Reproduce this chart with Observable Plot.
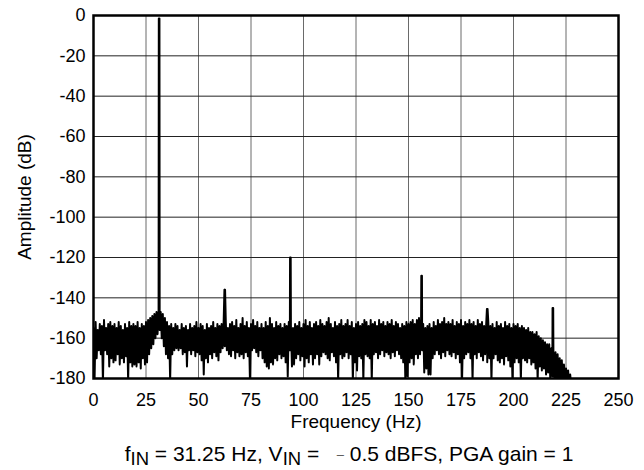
<!DOCTYPE html>
<html>
<head>
<meta charset="utf-8">
<script src="https://cdn.jsdelivr.net/npm/d3@7"></script>
<script src="https://cdn.jsdelivr.net/npm/@observablehq/plot@0.6"></script>
<style>
  html, body { margin: 0; padding: 0; background: #fff; }
  body { width: 644px; font-family: "Liberation Sans", Arial, sans-serif; }
  #chart svg { display: block; }
  #caption { width: 644px; box-sizing: border-box; padding-left: 54px; text-align: center;
             font-size: 21px; line-height: 24px; margin-top: 2px; color: #000; white-space: nowrap; }
  #caption sub { font-size: 0.88em; vertical-align: -4px; line-height: 0; }
  #caption .dash { font-size: 13px; color: #555; position: relative; top: -2px; }
</style>
</head>
<body>
<div id="chart"></div>
<div id="caption">f<sub>IN</sub> = 31.25 Hz, V<sub>IN</sub> = &nbsp;&nbsp;<span class="dash">&#8211;</span> 0.5 dBFS, PGA gain = 1</div>
<script>
// FFT bin spacing (Hz) of the noise-floor samples
const binStep = 0.5;
// Noise floor amplitude (dB), one value every 0.5 Hz from 0 Hz
const noiseAmp = [
  -155,-181,-152,-170,-156,-166,-153,-168,-154,-182,-151,-166,-155,-168,-153,-174,-152,-170,-154,-172,
  -153,-171,-155,-168,-152,-173,-154,-170,-156,-172,-153,-169,-155,-181,-152,-172,-154,-174,-153,-173,
  -154,-174,-152,-172,-155,-175,-153,-170,-154,-173,-152,-172,-151,-168,-150,-165,-149,-163,-148,-160,
  -147,-158,-146,-156,-147,-160,-148,-164,-150,-168,-152,-170,-154,-181,-153,-168,-155,-166,-153,-165,
  -154,-166,-156,-165,-153,-168,-155,-167,-154,-174,-156,-166,-153,-168,-155,-166,-154,-169,-152,-167,
  -155,-168,-153,-171,-154,-178,-156,-170,-153,-172,-155,-168,-154,-170,-152,-167,-155,-169,-153,-171,
  -154,-167,-153,-165,-151,-164,-152,-166,-155,-168,-153,-169,-152,-166,-154,-170,-151,-167,-155,-169,
  -153,-168,-150,-170,-154,-167,-152,-169,-155,-181,-153,-166,-151,-165,-154,-167,-152,-169,-155,-166,
  -153,-170,-155,-172,-152,-174,-154,-175,-150,-172,-153,-173,-155,-170,-152,-171,-154,-168,-153,-170,
  -155,-169,-153,-172,-154,-179,-152,-166,-154,-174,-155,-173,-153,-170,-154,-168,-152,-171,-155,-169,
  -153,-174,-151,-170,-154,-172,-152,-168,-155,-173,-153,-170,-152,-168,-154,-173,-151,-169,-153,-167,
  -154,-168,-152,-170,-150,-171,-153,-167,-155,-169,-152,-172,-154,-181,-153,-168,-151,-170,-154,-169,
  -153,-167,-151,-170,-154,-168,-152,-181,-155,-172,-153,-176,-152,-169,-154,-170,-153,-181,-151,-168,
  -152,-169,-154,-170,-151,-181,-153,-168,-152,-167,-154,-170,-151,-168,-153,-166,-152,-169,-154,-167,
  -152,-168,-153,-170,-151,-167,-154,-169,-152,-166,-153,-168,-155,-170,-153,-172,-154,-181,-152,-179,
  -153,-172,-152,-170,-151,-173,-153,-168,-151,-170,-150,-168,-151,-166,-153,-177,-155,-175,-154,-178,
  -153,-178,-155,-170,-152,-168,-154,-166,-151,-168,-153,-170,-152,-167,-150,-169,-153,-166,-152,-168,
  -153,-169,-151,-167,-154,-170,-152,-168,-153,-172,-151,-181,-154,-170,-152,-168,-153,-167,-151,-170,
  -153,-181,-152,-168,-154,-170,-151,-167,-153,-169,-152,-171,-154,-168,-153,-172,-152,-170,-154,-181,
  -153,-170,-155,-168,-152,-171,-154,-172,-153,-170,-155,-173,-152,-169,-154,-171,-153,-174,-155,-181,
  -153,-172,-154,-170,-153,-172,-155,-181,-154,-170,-155,-171,-156,-172,-155,-170,-157,-173,-157,-172,
  -158,-175,-157,-181,-159,-174,-160,-176,-161,-175,-162,-178,-163,-177,-163,-180,-165,-179,-166,-181,
  -167,-180,-168,-181,-170,-180,-171,-182,-173,-181,-175,-182,-176,-183,-178,-184
];
// Spurs: fundamental and harmonics (Hz, dB)
const spurFreq = [31.25, 62.5, 93.75, 156.25, 187.5, 218.75];
const spurAmp = [-1.5, -136, -120, -129, -145.5, -145];
// Axis ticks
const xTicks = [0, 25, 50, 75, 100, 125, 150, 175, 200, 225, 250];
const yTicks = [0, -20, -40, -60, -80, -100, -120, -140, -160, -180];

// each spur peak spans a narrow bin width (±0.15 Hz) so it draws as a solid bar
const spurPoints = spurFreq.flatMap((f, i) => [
  {f: f - 0.15, a: spurAmp[i]}, {f, a: spurAmp[i]}, {f: f + 0.15, a: spurAmp[i]}
]);
const spectrum = noiseAmp.map((a, i) => ({f: i * binStep, a}))
  .concat(spurPoints)
  .sort((p, q) => p.f - q.f);

const font = '"Liberation Sans", Arial, sans-serif';
const chart = Plot.plot({
  width: 644,
  height: 440,
  marginLeft: 93,
  marginRight: 26,
  marginTop: 15,
  marginBottom: 62,
  style: {fontFamily: font, fontSize: "18px", color: "#000", background: "#fff"},
  x: {domain: [0, 250]},
  y: {domain: [-180, 0]},
  marks: [
    Plot.gridX(xTicks, {stroke: "#6a6a6a", strokeOpacity: 1, strokeWidth: 1}),
    Plot.gridY(yTicks, {stroke: "#222", strokeOpacity: 1, strokeWidth: 1}),
    Plot.lineY(spectrum, {x: "f", y: "a", stroke: "#000", strokeWidth: 2, clip: true}),
    Plot.frame({stroke: "#000", strokeWidth: 2.5}),
    Plot.axisX(xTicks, {tickSize: 0, tickPadding: 15, label: null, fontSize: 18, tickFormat: d => String(d)}),
    Plot.axisY(yTicks, {tickSize: 0, tickPadding: 8, label: null, fontSize: 18, tickFormat: d => String(d)}),
    Plot.text(["Frequency (Hz)"], {frameAnchor: "bottom", dy: 43, fontSize: 19, lineAnchor: "middle", textAnchor: "middle"}),
    Plot.text(["Amplitude (dB)"], {frameAnchor: "left", dx: -69, rotate: -90, fontSize: 19, lineAnchor: "middle", textAnchor: "middle"})
  ]
});
document.getElementById("chart").appendChild(chart);
</script>
</body>
</html>
